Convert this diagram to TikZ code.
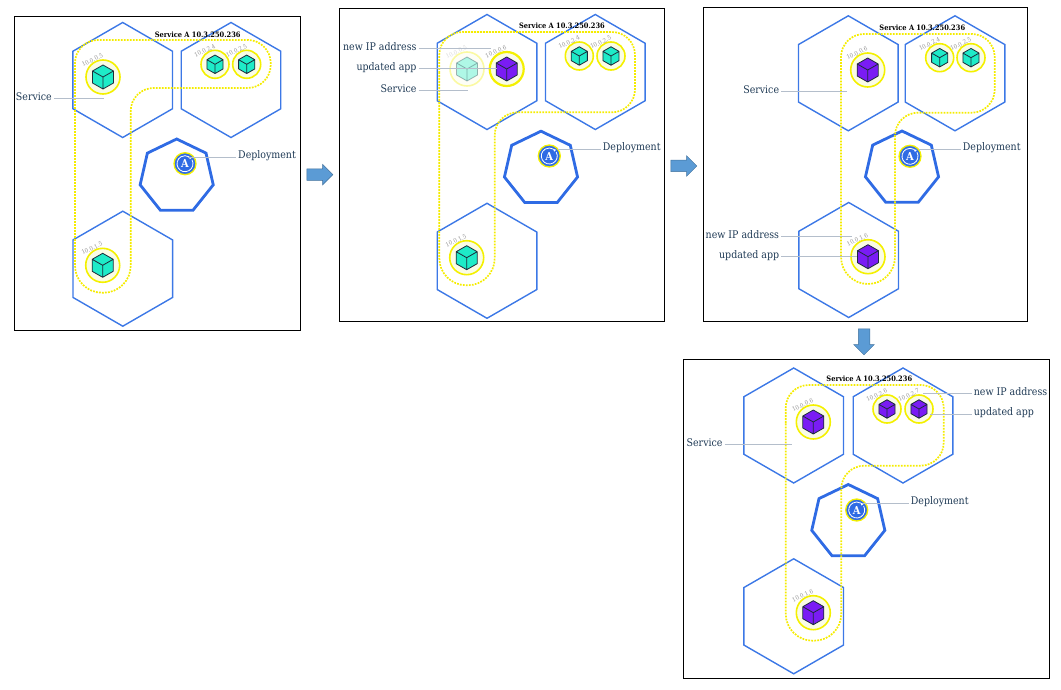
\documentclass[tikz,border=0pt]{standalone}
\usepackage{fontspec}
\setmainfont{DejaVu Serif Condensed}
\usetikzlibrary{arrows.meta,shapes.geometric,shapes.arrows}
\definecolor{hexblue}{HTML}{3C78E6}
\definecolor{deployblue}{HTML}{2F6BE4}
\definecolor{podyellow}{HTML}{F4F000}
\definecolor{podfill}{HTML}{FAFCE6}
\definecolor{pathyellow}{HTML}{F5EC00}
\definecolor{cubeteal}{HTML}{1EEBC8}
\definecolor{cubepurple}{HTML}{7A1CF4}
\definecolor{cubeline}{HTML}{1C2B3A}
\definecolor{labeltext}{HTML}{1F3A55}
\definecolor{leadergrey}{HTML}{B4BECB}
\definecolor{stepblue}{HTML}{5B9BD5}
\definecolor{stepline}{HTML}{41719C}

\begin{document}
\begin{tikzpicture}[x=1pt,y=-1pt,font=\fontsize{10.5}{12}\selectfont,
  framebox/.style={draw,line width=1pt},
  hexa/.style={regular polygon,regular polygon sides=6,shape border rotate=30,draw=hexblue,line width=1.4pt,minimum size=115pt,inner sep=0pt},
  hepta/.style={regular polygon,regular polygon sides=7,draw=deployblue,line width=2.8pt,minimum size=75pt,inner sep=0pt},
  pod/.style={circle,draw=podyellow,fill=podfill,line width=1.6pt,minimum size=#1,inner sep=0pt},
  ip/.style={font=\fontsize{6}{6}\selectfont,text=gray!85,rotate=25,inner sep=0pt,anchor=center,label distance=2.5pt},
  deploy/.style={circle,draw=podyellow,fill=deployblue,line width=1.3pt,minimum size=22pt,inner sep=0pt,text=white,font=\fontsize{11}{11}\selectfont\bfseries},
  svcpath/.style={draw=pathyellow,line width=1.7pt,dash pattern=on 1.8pt off 1.2pt},
  svcname/.style={font=\fontsize{7.4}{9}\selectfont\bfseries,inner sep=0pt},
  tag/.style={text=labeltext,inner sep=0pt},
  leader/.style={draw=leadergrey,line width=.9pt,shorten <=2pt},
  nextarrow/.style={single arrow,draw=stepline,fill=stepblue,line width=.5pt,minimum width=20pt,minimum height=26pt,single arrow head extend=4.5pt,single arrow tip angle=90,inner xsep=0pt,inner ysep=5.5pt},
  cube/.pic={
    \path[pic actions] (0,-12)--(10.5,-6)--(10.5,6)--(0,12)--(-10.5,6)--(-10.5,-6)--cycle;
    \draw[cubeline,line width=.8pt,line join=round] (0,-12)--(10.5,-6)--(10.5,6)--(0,12)--(-10.5,6)--(-10.5,-6)--cycle
      (-10.5,-6)--(0,0)--(10.5,-6) (0,0)--(0,12);
  },
  ring/.pic={
    \draw[white,line width=.8pt] (-30:8) arc[start angle=-30,end angle=300,radius=8];
    \fill[white] (-42:6.6)--(-42:9.4)--(-62:8)--cycle;
  }]
  \useasboundingbox (0,0) rectangle (1061,690);
  % frames
  \draw[framebox] (14.5,17) rectangle (300.5,330);
  \draw[framebox] (339.5,9) rectangle (664.5,321);
  \draw[framebox] (703.5,8) rectangle (1027.5,321);
  \draw[framebox] (683.5,359.5) rectangle (1049.5,678.5);
  % hexagons and the deployment
  \foreach \n/\ax/\ay/\bx/\cx/\cy/\dx/\dy/\ex/\ey in {
    p1/122.7/80/231/122.8/268.7/176.7/176.5/185/163.7,
    p2/487/72/595.3/487/260.8/541/168.7/549.3/156,
    p3/848.3/73.3/955/848.7/260/902/168.5/910/156.3,
    p4/793.7/425.5/903/793.7/616.3/848.3/522/856.7/510}{
    \node[hexa](\n a) at (\ax,\ay){};
    \node[hexa](\n b) at (\bx,\ay){};
    \node[hexa](\n c) at (\cx,\cy){};
    \node[hepta](\n d) at (\dx,\dy){};
    \node[deploy](\n e) at (\ex,\ey){A};
    \pic at (\n e) {ring};
  }
  % service paths
  \draw[svcpath,rounded corners=23pt] (75,100)--(75,40)--(270.7,40)--(270.7,88)--(130.7,88)--(130.7,240)
    [rounded corners=27pt]--(130.7,292.7)--(75,292.7)--cycle;
  \draw[svcpath,rounded corners=23pt] (439.3,100)--(439.3,32)--(635,32)--(635,112.3)--(494.7,112.3)--(494.7,230)
    [rounded corners=27pt]--(494.7,285.3)--(439.3,285.3)--cycle;
  \draw[svcpath,rounded corners=23pt] (841,100)--(841,34)--(994.7,34)--(994.7,112.7)--(895,112.7)--(895,230)
    [rounded corners=27pt]--(895,284)--(841,284)--cycle;
  \draw[svcpath,rounded corners=23pt] (785.7,450)--(785.7,385)--(943.7,385)--(943.7,465.7)--(841.3,465.7)--(841.3,590)
    [rounded corners=27pt]--(841.3,640.7)--(785.7,640.7)--cycle;
  \node[svcname](p1s) at (197.7,34.3){Service A 10.3.250.236};
  \node[svcname](p2s) at (562,25.7){Service A 10.3.250.236};
  \node[svcname](p3s) at (922.3,27.7){Service A 10.3.250.236};
  \node[svcname](p4s) at (869.3,378.7){Service A 10.3.250.236};
  % pods
  \node[pod=34pt,label={[ip]119:10.0.0.5}](p1p) at (103,77){};
  \node[pod=28pt,label={[ip]123:10.0.2.4}](p1q) at (215,64.3){};
  \node[pod=28pt,label={[ip]123:10.0.2.5}](p1r) at (246.7,64.3){};
  \node[pod=34pt,label={[ip]119:10.0.1.5}](p1t) at (102.7,265.3){};
  \pic[fill=cubeteal] at (p1p) {cube};
  \pic[fill=cubeteal,scale=.77] at (p1q) {cube};
  \pic[fill=cubeteal,scale=.77] at (p1r) {cube};
  \pic[fill=cubeteal] at (p1t) {cube};

  \begin{scope}[opacity=.35]
    \node[pod=34pt,label={[ip]119:10.0.0.5}](p2o) at (467,69){};
    \pic[fill=cubeteal] at (p2o) {cube};
  \end{scope}
  \node[pod=34pt,line width=2.2pt,label={[ip]119:10.0.0.6}](p2p) at (506.7,69){};
  \node[pod=28pt,label={[ip]123:10.0.2.4}](p2q) at (579.3,56){};
  \node[pod=28pt,label={[ip]123:10.0.2.5}](p2r) at (611,56){};
  \node[pod=34pt,label={[ip]119:10.0.1.5}](p2t) at (466.7,257.7){};
  \pic[fill=cubepurple] at (p2p) {cube};
  \pic[fill=cubeteal,scale=.77] at (p2q) {cube};
  \pic[fill=cubeteal,scale=.77] at (p2r) {cube};
  \pic[fill=cubeteal] at (p2t) {cube};

  \node[pod=34pt,label={[ip]119:10.0.0.6}](p3p) at (867.7,70){};
  \node[pod=28pt,label={[ip]123:10.0.2.4}](p3q) at (939.7,57.7){};
  \node[pod=28pt,label={[ip]123:10.0.2.5}](p3r) at (971,57.7){};
  \node[pod=34pt,label={[ip]119:10.0.1.6}](p3t) at (868,256.7){};
  \pic[fill=cubepurple] at (p3p) {cube};
  \pic[fill=cubeteal,scale=.77] at (p3q) {cube};
  \pic[fill=cubeteal,scale=.77] at (p3r) {cube};
  \pic[fill=cubepurple] at (p3t) {cube};

  \node[pod=34pt,label={[ip]119:10.0.0.6}](p4p) at (813.3,422){};
  \node[pod=28pt,label={[ip]123:10.0.2.6}](p4q) at (887,409){};
  \node[pod=28pt,label={[ip]123:10.0.2.7}](p4r) at (919,409){};
  \node[pod=34pt,label={[ip]119:10.0.1.6}](p4t) at (813.3,612.7){};
  \pic[fill=cubepurple] at (p4p) {cube};
  \pic[fill=cubepurple,scale=.77] at (p4q) {cube};
  \pic[fill=cubepurple,scale=.77] at (p4r) {cube};
  \pic[fill=cubepurple] at (p4t) {cube};
  % labels and their leaders
  \node[tag,anchor=east](p1l) at (52,97){Service};
  \coordinate (p1m) at (103.7,98.5);
  \draw[leader] (p1l.east |- p1m)--(p1m);
  \node[tag,anchor=west](p1n) at (238,155.7){Deployment};
  \coordinate (p1g) at (188,157);
  \draw[leader] (p1n.west |- p1g)--(p1g);

  \node[tag,anchor=east](p2i) at (416.7,47){new IP address};
  \node[tag,anchor=east](p2u) at (416.7,67.3){updated app};
  \node[tag,anchor=east](p2l) at (416.7,89){Service};
  \node[tag,anchor=west](p2n) at (602.7,147.7){Deployment};
  \coordinate (p2j) at (490.7,48.3);
  \coordinate (p2v) at (496.7,68.7);
  \coordinate (p2m) at (467.7,90.3);
  \coordinate (p2g) at (558,149);
  \draw[leader] (p2i.east |- p2j)--(p2j);
  \draw[leader] (p2u.east |- p2v)--(p2v);
  \draw[leader] (p2l.east |- p2m)--(p2m);
  \draw[leader] (p2n.west |- p2g)--(p2g);

  \node[tag,anchor=east](p3i) at (779.3,235){new IP address};
  \node[tag,anchor=east](p3u) at (779.3,255.7){updated app};
  \node[tag,anchor=east](p3l) at (779.3,90){Service};
  \node[tag,anchor=west](p3n) at (962.7,148){Deployment};
  \coordinate (p3j) at (851.7,236.3);
  \coordinate (p3v) at (856.7,256.7);
  \coordinate (p3m) at (846.7,91);
  \coordinate (p3g) at (919,149);
  \draw[leader] (p3i.east |- p3j)--(p3j);
  \draw[leader] (p3u.east |- p3v)--(p3v);
  \draw[leader] (p3l.east |- p3m)--(p3m);
  \draw[leader] (p3n.west |- p3g)--(p3g);

  \node[tag,anchor=west](p4i) at (973.7,391.7){new IP address};
  \node[tag,anchor=west](p4u) at (973.7,412.7){updated app};
  \node[tag,anchor=east](p4l) at (722.7,442.3){Service};
  \node[tag,anchor=west](p4n) at (910.7,501.7){Deployment};
  \coordinate (p4j) at (923,393);
  \coordinate (p4v) at (930,414);
  \coordinate (p4m) at (791.7,444);
  \coordinate (p4g) at (863,503);
  \draw[leader] (p4i.west |- p4j)--(p4j);
  \draw[leader] (p4u.west |- p4v)--(p4v);
  \draw[leader] (p4l.east |- p4m)--(p4m);
  \draw[leader] (p4n.west |- p4g)--(p4g);
  % arrows between the panels
  \node[nextarrow](a12) at (317,174.7){};
  \node[nextarrow](a23) at (681,166){};
  \node[nextarrow,rotate=-90](a34) at (864,339){};
\end{tikzpicture}
\end{document}
